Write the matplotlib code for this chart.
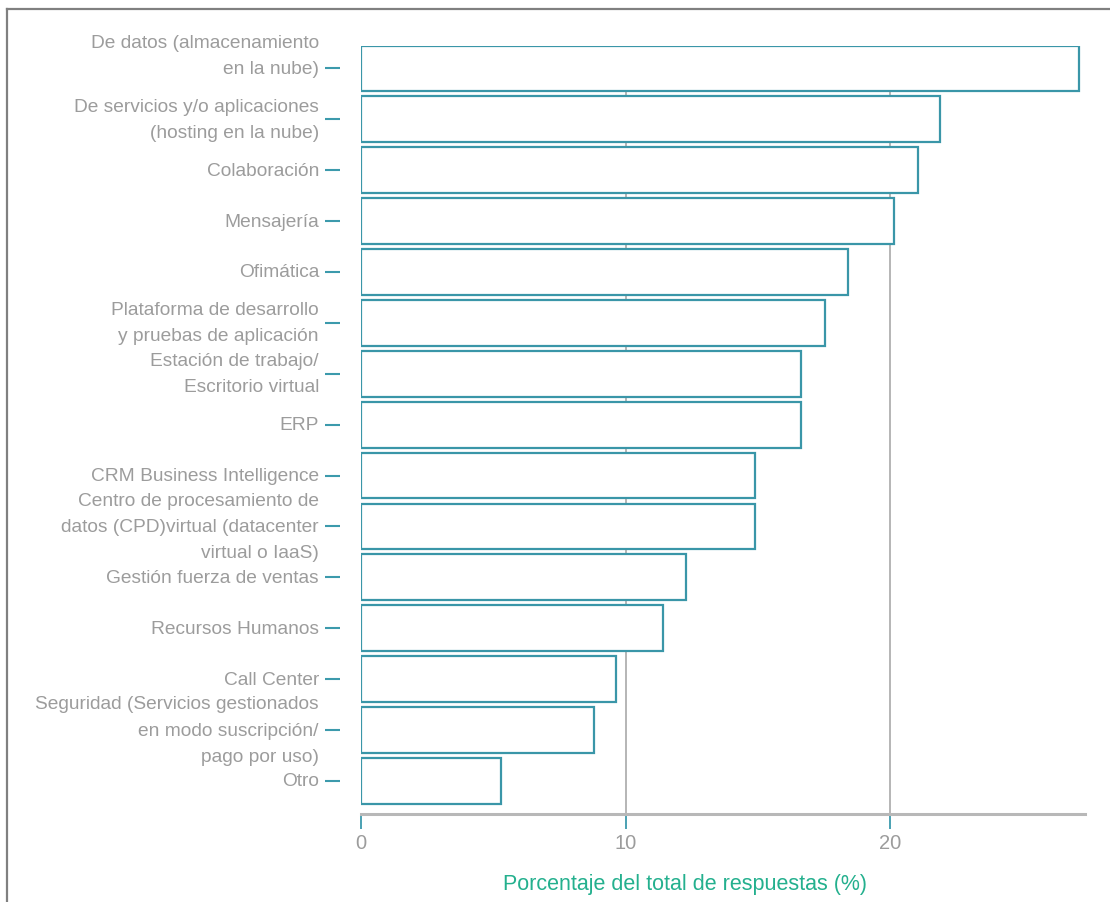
import matplotlib
matplotlib.use("Agg")
import matplotlib.pyplot as plt
from matplotlib.lines import Line2D
from matplotlib.transforms import ScaledTranslation

categories = [
    "De datos (almacenamiento\nen la nube)",
    "De servicios y/o aplicaciones\n(hosting en la nube)",
    "Colaboración",
    "Mensajería",
    "Ofimática",
    "Plataforma de desarrollo\ny pruebas de aplicación",
    "Estación de trabajo/\nEscritorio virtual",
    "ERP",
    "CRM Business Intelligence",
    "Centro de procesamiento de\ndatos (CPD)virtual (datacenter\nvirtual o IaaS)",
    "Gestión fuerza de ventas",
    "Recursos Humanos",
    "Call Center",
    "Seguridad (Servicios gestionados\nen modo suscripción/\npago por uso)",
    "Otro",
]
values = [27.15, 21.9, 21.05, 20.15, 18.4, 17.55, 16.65, 16.65,
          14.9, 14.9, 12.3, 11.4, 9.65, 8.8, 5.3]
xticks = [0, 10, 20]
xlabel = "Porcentaje del total de respuestas (%)"

BAR_EDGE = "#3a96a8"
TICK_COL = "#3c9aac"
TEXT_GRAY = "#9c9c9c"
LABEL_GREEN = "#24b08e"
GRID_GRAY = "#b0b0b0"

plt.rcParams["font.family"] = ["Liberation Sans", "DejaVu Sans"]

fig = plt.figure(figsize=(11.10, 9.03), dpi=100)
ax = fig.add_axes([361 / 1110, 1 - 815 / 903, 724 / 1110, 768.5 / 903])

ypos = list(range(len(categories)))
ax.barh(ypos, values, height=0.9, color="white", edgecolor=BAR_EDGE,
        linewidth=1.6, zorder=3)

ax.set_xlim(0, 27.37)
ax.set_ylim(len(categories) - 0.35, -0.45)

for xv in xticks[1:]:
    ax.axvline(xv, color=GRID_GRAY, linewidth=1.3, zorder=1)

for side in ("top", "right"):
    ax.spines[side].set_visible(False)
ax.spines["left"].set_visible(False)
ax.spines["left"].set_position(("outward", 15.1))
ax.spines["bottom"].set_color("#b8b8b8")
ax.spines["bottom"].set_linewidth(2.2)

ax.set_xticks(xticks)
ax.set_xticklabels([str(t) for t in xticks])
ax.tick_params(axis="x", direction="out", length=11, width=1.3,
               color=TICK_COL, labelcolor=TEXT_GRAY, labelsize=14.5, pad=3)
ax.set_yticks(ypos)
ax.set_yticklabels([""] * len(ypos))
ax.tick_params(axis="y", direction="out", length=11, width=1.5,
               color=TICK_COL)

# category names drawn to the left of the tick marks
FS = 13.8
LS = 1.7
ytrans = ax.get_yaxis_transform() + ScaledTranslation(-42 / 100, 0, fig.dpi_scale_trans)
for i, name in enumerate(categories):
    if i == 0:
        ax.text(0, i, name,
                transform=ytrans + ScaledTranslation(0, -5 / 100, fig.dpi_scale_trans),
                ha="right", va="baseline", multialignment="right",
                fontsize=FS, color=TEXT_GRAY, linespacing=LS)
    else:
        ax.text(0, i, name, transform=ytrans, ha="right", va="center",
                multialignment="right", fontsize=FS, color=TEXT_GRAY,
                linespacing=LS)

ax.set_xlabel(xlabel, color=LABEL_GREEN, fontsize=15.5)
ax.xaxis.set_label_coords((685 - 361) / 724, -70 / 768.5)
ax.xaxis.label.set_va("center")

# outer frame (left and top edges)
fig.add_artist(Line2D([7 / 1110, 7 / 1110], [0, 1 - 10 / 903],
                      transform=fig.transFigure, color="#808080", linewidth=1.6))
fig.add_artist(Line2D([7 / 1110, 1], [1 - 10 / 903, 1 - 10 / 903],
                      transform=fig.transFigure, color="#808080", linewidth=1.6))

fig.savefig("out.png", dpi=100)
